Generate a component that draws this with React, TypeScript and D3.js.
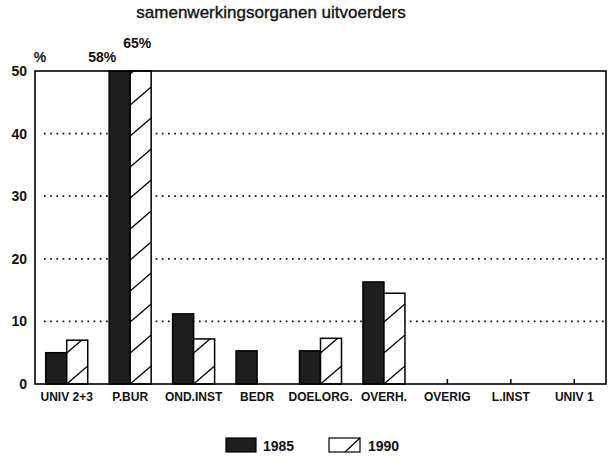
import React from "react";
import * as d3 from "d3";

const categories = ["UNIV 2+3", "P.BUR", "OND.INST", "BEDR", "DOELORG.", "OVERH.", "OVERIG", "L.INST", "UNIV 1"];
const series = ["1985", "1990"];
const values1985 = [5, 58, 11.2, 5.3, 5.3, 16.3, 0, 0, 0];
const values1990 = [7, 65, 7.2, 0, 7.3, 14.5, 0, 0, 0];
const yTicks = [0, 10, 20, 30, 40, 50];
const gridTicks = [10, 20, 30, 40];
const title = "samenwerkingsorganen uitvoerders";

const W = 614, H = 462;
const left = 35, right = 606, top = 71, bottom = 384;
const FONT = "'Liberation Sans', Arial, Helvetica, sans-serif";

export default function App() {
  const x = d3.scaleBand<string>().domain(categories).range([left, right]);
  const x1 = d3.scaleBand<string>().domain(series).range([-21, 21]);
  const y = d3.scaleLinear().domain([0, 50]).range([bottom, top]).clamp(true);
  const bw = x1.bandwidth();
  const dark = "#1e1e1e";

  const hatchLines = (bx: number, ytop: number) => {
    const lines: JSX.Element[] = [];
    const period = 31, rise = 18;
    for (let k = 0; ; k++) {
      const y0 = bottom - k * period;
      if (y0 - rise < ytop - period) break;
      lines.push(<line key={k} x1={bx} y1={y0} x2={bx + bw} y2={y0 - rise} stroke="#000" strokeWidth={1.3} />);
    }
    return lines;
  };

  const pbur = x("P.BUR")! + x.bandwidth() / 2;

  return (
    <div style={{ position: "absolute", left: 0, top: 0, width: W, height: H, background: "#fff" }}>
      <svg width={W} height={H} style={{ display: "block" }} fontFamily={FONT}>
        <rect width={W} height={H} fill="#fff" />
        <text x={271} y={18} textAnchor="middle" fontSize={17} fill="#111" stroke="#111" strokeWidth={0.35}>{title}</text>

        {gridTicks.map((t) => (
          <line key={t} x1={left + 9} x2={right - 2} y1={y(t)} y2={y(t)} stroke="#111" strokeWidth={1.7} strokeDasharray="1.7 4.5" />
        ))}

        {categories.map((c, i) => {
          const cx = x(c)! + x.bandwidth() / 2;
          const v = [values1985[i], values1990[i]];
          return (
            <g key={c}>
              <line x1={cx} x2={cx} y1={bottom} y2={bottom - 5} stroke="#000" strokeWidth={1.5} />
              {v.map((val, j) => {
                if (val <= 0) return null;
                const bx = cx + x1(series[j])!;
                const yt = y(val);
                const clipId = `clip-${i}-${j}`;
                return (
                  <g key={j}>
                    <clipPath id={clipId}>
                      <rect x={bx} y={yt} width={bw} height={bottom - yt} />
                    </clipPath>
                    <rect x={bx} y={yt} width={bw} height={bottom - yt} fill={j === 0 ? dark : "#fff"} stroke="#000" strokeWidth={1.5} />
                    {j === 1 && <g clipPath={`url(#${clipId})`}>{hatchLines(bx, yt)}</g>}
                  </g>
                );
              })}
            </g>
          );
        })}

        <rect x={left} y={top} width={right - left} height={bottom - top} fill="none" stroke="#000" strokeWidth={1.6} />

        {yTicks.map((t) => (
          <text key={t} x={27} y={y(t) + 5} textAnchor="end" fontSize={14} fontWeight="bold" fill="#111">{t}</text>
        ))}
        <text x={40} y={62} textAnchor="middle" fontSize={14} fontWeight="bold" fill="#111">%</text>
        <text x={pbur - 28} y={62} textAnchor="middle" fontSize={14} fontWeight="bold" fill="#111">{`${values1985[1]}%`}</text>
        <text x={pbur + 7} y={48} textAnchor="middle" fontSize={14} fontWeight="bold" fill="#111">{`${values1990[1]}%`}</text>

        {categories.map((c) => (
          <text key={c} x={x(c)! + x.bandwidth() / 2} y={401} textAnchor="middle" fontSize={12} fontWeight="bold" fill="#111">{c}</text>
        ))}

        <rect x={226} y={438} width={30} height={14} fill={dark} stroke="#000" strokeWidth={1.2} />
        <text x={263} y={451} fontSize={14} fontWeight="bold" fill="#111">{series[0]}</text>
        <rect x={329} y={438} width={31} height={14} fill="#fff" stroke="#000" strokeWidth={1.2} />
        <line x1={345} y1={452} x2={360} y2={438} stroke="#000" strokeWidth={1.2} />
        <text x={368} y={451} fontSize={14} fontWeight="bold" fill="#111">{series[1]}</text>
      </svg>
    </div>
  );
}
